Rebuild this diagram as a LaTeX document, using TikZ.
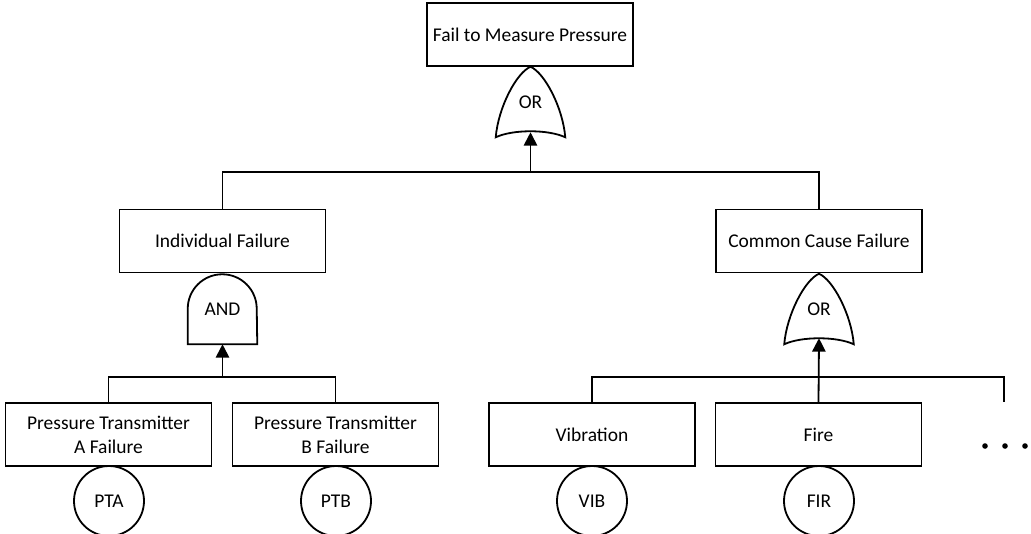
\documentclass[tikz,border=0pt]{standalone}
\usepackage{fontspec}
\setmainfont{Carlito}
\usetikzlibrary{calc,arrows.meta}
\tikzset{
  line/.style={line width=1.35pt, draw=black},
  evbox/.style={draw, line width=1.35pt, minimum width=154.5pt, minimum height=47.25pt, inner sep=0pt, align=center,
     font=\fontsize{14.6pt}{18pt}\selectfont},
  gatenode/.style={minimum width=51.75pt, minimum height=52.5pt, inner sep=0pt, font=\fontsize{14.6pt}{17pt}\selectfont},
  basic/.style={draw, circle, line width=1.35pt, minimum size=52.5pt, inner sep=0pt, font=\fontsize{14.6pt}{17pt}\selectfont},
  arr/.style={line, -{Triangle[length=10pt,width=10pt]}},
}
\newcommand{\ORshape}[1]{%
  \draw[line, line join=miter] (#1.south west)
    .. controls ($(#1.south west)+(2.5,-30)$) and ($(#1.north)+(-14,6)$) .. (#1.north)
    .. controls ($(#1.north)+(14,6)$) and ($(#1.south east)+(-2.5,-30)$) .. (#1.south east)
    .. controls ($(#1.south east)+(-17,-8)$) and ($(#1.south west)+(17,-8)$) .. cycle;}
\newcommand{\ANDshape}[1]{%
  \draw[line] (#1.south west) -- ($(#1.south west)+(0,-35.5)$) arc[start angle=180, end angle=360, radius=34.5] -- (#1.south east) -- cycle;}
\begin{document}
\begin{tikzpicture}[x=0.75pt, y=-0.75pt]
\useasboundingbox (0,0) rectangle (1031,533);
% events
\node[evbox] (top) at (530,34.5) {Fail to Measure Pressure};
\node[evbox] (ind) at (222.5,241) {Individual Failure};
\node[evbox] (ccf) at (819,241) {Common Cause Failure};
\node[evbox] (pta) at (108.5,434.5) {Pressure Transmitter\\A Failure};
\node[evbox] (ptb) at (335.5,434.5) {Pressure Transmitter\\B Failure};
\node[evbox] (vib) at (592,434.5) {Vibration};
\node[evbox] (fire) at (818.5,434.5) {Fire};
% gates
\node[gatenode] (or1) at (530.5,102) {OR};
\node[gatenode] (and1) at (222.5,309) {AND};
\node[gatenode] (or2) at (819,309) {OR};
\ORshape{or1}
\ANDshape{and1}
\ORshape{or2}
% basic events
\node[basic] (cpta) at (109,501) {PTA};
\node[basic] (cptb) at (336,501) {PTB};
\node[basic] (cvib) at (592,501) {VIB};
\node[basic] (cfir) at (819,501) {FIR};
% junctions
\coordinate (j0) at (530.5,172);
\coordinate (j1) at (222.5,377);
\coordinate (j2) at (819,377);
\coordinate (e) at (1004,402);
% connectors
\draw[line] (ind.north) |- (j0) -| (ccf.north);
\draw[arr] (j0) -- ($(or1.south)+(0,-5)$);
\draw[line] (pta.north) |- (j1) -| (ptb.north);
\draw[arr] (j1) -- (and1.south);
\draw[line] (vib.north) |- (j2) -| (e);
\draw[arr] (fire.north) -- ($(or2.south)+(0,-6)$);
% more
\foreach \xx in {985,1005,1025} \fill (\xx,446) circle[radius=2.8];
\end{tikzpicture}
\end{document}
